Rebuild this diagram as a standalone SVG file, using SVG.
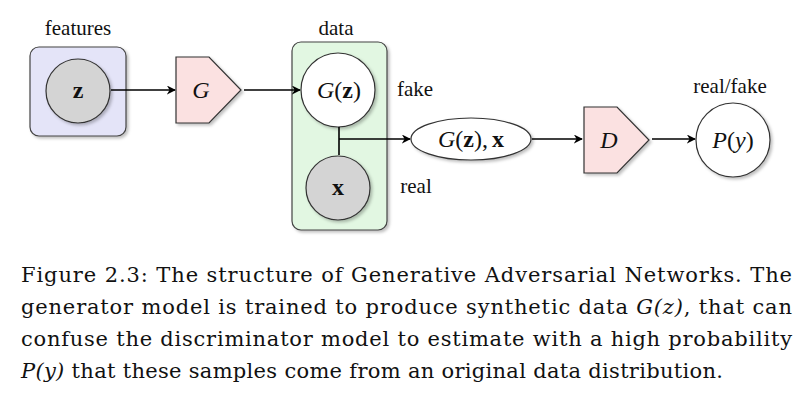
<svg xmlns="http://www.w3.org/2000/svg" width="811" height="403" viewBox="0 0 811 403">
<style>
text{font-family:"Liberation Serif","Times New Roman",serif;fill:#111}
.lbl{font-size:21px;text-anchor:middle}
.math{font-size:24px;text-anchor:middle}
.cap{font-family:"DejaVu Serif","Liberation Serif",serif;font-size:21px}
.box{stroke:#444;stroke-width:1.2}
.node{stroke:#333;stroke-width:1.2}
.edge{stroke:#000;stroke-width:1.6;fill:none}
</style>
<defs>
<filter id="sh" x="-20%" y="-20%" width="150%" height="150%">
<feDropShadow dx="2" dy="2" stdDeviation="1.5" flood-color="#000" flood-opacity="0.25"/>
</filter>
<marker id="arr" viewBox="0 0 10 10" refX="9" refY="5" markerWidth="9" markerHeight="9" markerUnits="userSpaceOnUse" orient="auto">
<path d="M0,0 L10,5 L0,10 L3,5 z" fill="#000"/>
</marker>
</defs>

<g id="features">
<text class="lbl" x="78" y="35">features</text>
<rect class="box" x="30" y="47" width="96" height="89" rx="9" fill="#e4e4f8" filter="url(#sh)"/>
</g>
<g id="z">
<circle class="node" cx="78" cy="91" r="32" fill="#d4d4d4" filter="url(#sh)"/>
<text class="math" x="78" y="98" font-weight="bold">z</text>
</g>
<g id="G">
<path class="node" d="M176,57 L209,57 L241,90 L209,123 L176,123 Z" fill="#fbe1e1" filter="url(#sh)"/>
<text class="math" x="201" y="98" font-style="italic">G</text>
</g>
<g id="data">
<text class="lbl" x="336" y="35">data</text>
<rect class="box" x="292" y="42" width="95" height="188" rx="9" fill="#e2f7e2" filter="url(#sh)"/>
</g>
<g id="Gz">
<circle class="node" cx="338" cy="90" r="37" fill="#fff" filter="url(#sh)"/>
<text class="math" x="339" y="98"><tspan font-style="italic">G</tspan>(<tspan font-weight="bold">z</tspan>)</text>
</g>
<g id="x">
<circle class="node" cx="338" cy="188" r="32" fill="#d4d4d4" filter="url(#sh)"/>
<text class="math" x="338" y="195" font-weight="bold">x</text>
</g>
<g id="labels">
<text class="lbl" x="415" y="96">fake</text>
<text class="lbl" x="416" y="193">real</text>
<text class="lbl" x="730" y="93">real/fake</text>
</g>
<g id="Gzx">
<ellipse class="node" cx="471" cy="139" rx="60" ry="21" fill="#fff" filter="url(#sh)"/>
<text class="math" x="471" y="147"><tspan font-style="italic">G</tspan>(<tspan font-weight="bold">z</tspan>),<tspan font-weight="bold" dx="4">x</tspan></text>
</g>
<g id="D">
<path class="node" d="M584,107 L617,107 L649,140 L617,173 L584,173 Z" fill="#fbe1e1" filter="url(#sh)"/>
<text class="math" x="609" y="148" font-style="italic">D</text>
</g>
<g id="Py">
<circle class="node" cx="733" cy="140" r="37" fill="#fff" filter="url(#sh)"/>
<text class="math" x="733" y="148"><tspan font-style="italic">P</tspan>(<tspan font-style="italic">y</tspan>)</text>
</g>

<g id="connectors">
<line class="edge" x1="111" y1="90" x2="175" y2="90" marker-end="url(#arr)"/>
<line class="edge" x1="244" y1="90" x2="300" y2="90" marker-end="url(#arr)"/>
<line class="edge" x1="339" y1="127" x2="339" y2="155"/>
<line class="edge" x1="339" y1="139" x2="410" y2="139" marker-end="url(#arr)"/>
<line class="edge" x1="532" y1="139" x2="582" y2="139" marker-end="url(#arr)"/>
<line class="edge" x1="652" y1="139" x2="695" y2="139" marker-end="url(#arr)"/>
</g>

<g id="caption">
<text class="cap" x="21" y="282" textLength="771" lengthAdjust="spacing">Figure 2.3:  The structure of Generative Adversarial Networks.  The</text>
<text class="cap" x="21" y="314" textLength="771" lengthAdjust="spacing">generator model is trained to produce synthetic data <tspan font-style="italic">G(z)</tspan>, that can</text>
<text class="cap" x="21" y="346" textLength="771" lengthAdjust="spacing">confuse the discriminator model to estimate with a high probability</text>
<text class="cap" x="21" y="378" textLength="702" lengthAdjust="spacing"><tspan font-style="italic">P(y)</tspan> that these samples come from an original data distribution.</text>
</g>
</svg>
